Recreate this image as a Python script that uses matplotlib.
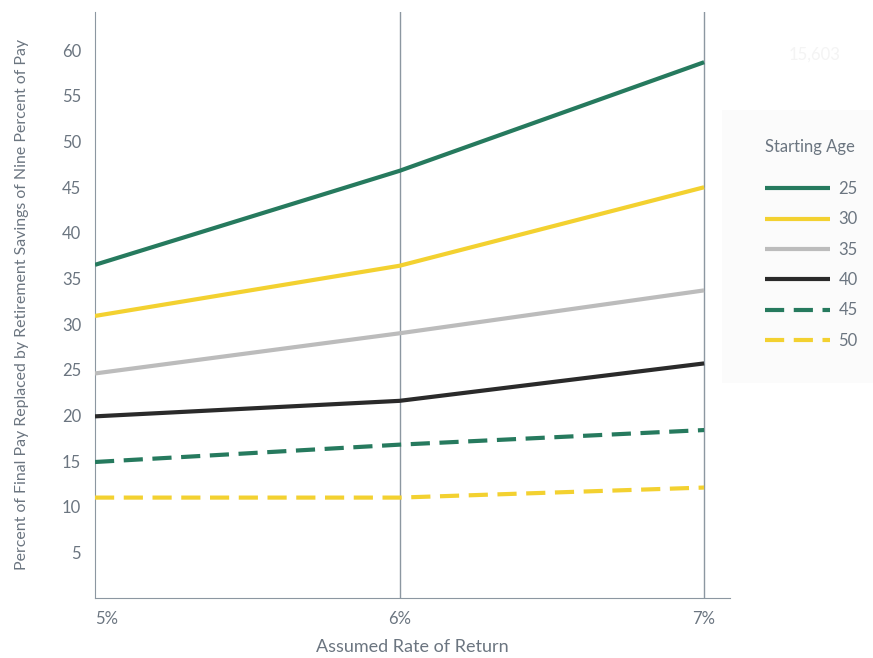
import matplotlib.pyplot as plt
from matplotlib.patches import Rectangle

rates = [5, 6, 7]
rate_labels = ['5%', '6%', '7%']
ages = ['25', '30', '35', '40', '45', '50']
age_25 = [36.5, 46.8, 58.7]
age_30 = [30.9, 36.4, 45.0]
age_35 = [24.6, 29.0, 33.7]
age_40 = [19.9, 21.6, 25.7]
age_45 = [14.9, 16.8, 18.4]
age_50 = [11.0, 11.0, 12.1]

green = '#267a5e'
yellow = '#f3d130'
grey = '#bcbcbc'
black = '#2a2a2a'
text_col = '#6b7580'
axis_col = '#8c97a1'

plt.rcParams['font.family'] = ['Lato', 'DejaVu Sans']

fig = plt.figure(figsize=(8.73, 6.58), dpi=100)
ax = fig.add_axes([95 / 873, 1 - 598 / 658, 635 / 873, 586 / 658])

styles = [
    (age_25, green, '-'),
    (age_30, yellow, '-'),
    (age_35, grey, '-'),
    (age_40, black, '-'),
    (age_45, green, '--'),
    (age_50, yellow, '--'),
]
lines = []
for (vals, col, ls), lab in zip(styles, ages):
    ln, = ax.plot(rates, vals, color=col, lw=3, ls=ls, label=lab,
                  solid_capstyle='butt', dash_capstyle='butt', zorder=3)
    if ls == '--':
        ln.set_dashes((4.6, 2.3))
    lines.append(ln)

ax.set_xlim(5, 7.085)
ax.set_ylim(0, 64.2)
ax.set_yticks(range(5, 65, 5))
ax.set_xticks(rates)
ax.set_xticklabels(rate_labels)
ax.get_xticklabels()[0].set_horizontalalignment('left')

for x in rates[1:]:
    ax.axvline(x, color=axis_col, lw=1, zorder=1)

for s in ['top', 'right']:
    ax.spines[s].set_visible(False)
ax.spines['left'].set_color(axis_col)
ax.spines['bottom'].set_color(axis_col)
ax.tick_params(length=0, labelsize=12, colors=text_col)
ax.tick_params(axis='y', pad=10)
ax.tick_params(axis='x', pad=9)

ax.set_xlabel('Assumed Rate of Return', fontsize=13, color=text_col, labelpad=9)
ax.set_ylabel('Percent of Final Pay Replaced by Retirement Savings of Nine Percent of Pay',
              fontsize=11.4, color=text_col, labelpad=24)

# legend panel
fig.patches.append(Rectangle((722 / 873, 1 - 383 / 658), 151 / 873, 273 / 658,
                             transform=fig.transFigure, facecolor='#fbfbfb',
                             edgecolor='none', zorder=0))
fig.text(765 / 873, 1 - 147 / 658, 'Starting Age', color=text_col, fontsize=12,
         ha='left', va='center')
leg = fig.legend(handles=lines, loc='upper left',
                 bbox_to_anchor=(750 / 873, 1 - 166 / 658), frameon=False,
                 fontsize=12, handlelength=3.9,
                 handletextpad=0.5, labelspacing=0.86)
for t in leg.get_texts():
    t.set_color(text_col)

fig.text(815 / 873, 1 - 55 / 658, '15,603', color='#f4f4f4', fontsize=12,
         ha='center', va='center')

fig.savefig('out.png', dpi=100)
